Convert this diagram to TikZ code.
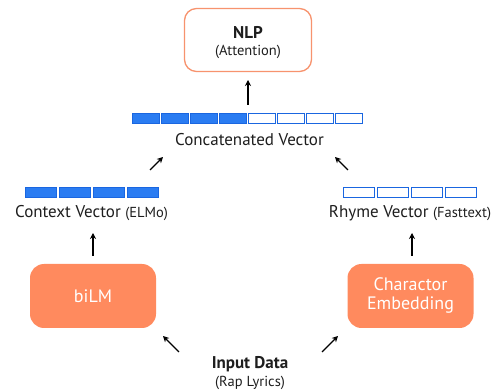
\documentclass[tikz,border=0pt]{standalone}
\usepackage{fontspec}
\setmainfont{PT Sans}
\usetikzlibrary{arrows.meta}
\definecolor{org}{HTML}{FF8A5E}
\definecolor{orgline}{HTML}{F7936E}
\definecolor{blu}{HTML}{2A7CF2}
\definecolor{blub}{HTML}{1A66E0}
\definecolor{txt}{HTML}{1E1E1E}
\newcommand{\bigf}{\fontsize{17}{20}\selectfont}
\newcommand{\smallf}{\fontsize{14.5}{16}\selectfont}
\tikzset{
  fullcell/.style={draw=blub, fill=blu, line width=1pt, minimum height=10pt, inner sep=0pt, anchor=west},
  emptycell/.style={draw=blub, fill=white, line width=1pt, minimum height=10pt, inner sep=0pt, anchor=west},
  arr/.style={-{Stealth[length=6pt,width=6pt]}, line width=1.3pt, black},
  lbl/.style={text=txt, inner sep=0pt, font=\bigf},
  solidbox/.style={fill=org, rounded corners=14pt, minimum width=126pt, minimum height=64pt, text=white, align=center, font=\fontsize{18}{20}\selectfont, inner sep=0pt},
}
\begin{document}
\begin{tikzpicture}[x=1pt,y=-1pt]
\useasboundingbox (0,0) rectangle (499,390);
% NLP box
\node[draw=orgline, line width=1.3pt, fill=white, rounded corners=12pt, minimum width=127pt, minimum height=63pt, inner sep=0pt] (nlp) at (248,40) {};
\node[align=center, inner sep=0pt, text=txt] (nlptxt) at (248,42.5)
  {{\bigf\bfseries NLP}\\[5pt]{\smallf (Attention)}};
% concatenated vector cells
\foreach \i in {1,...,4}{
  \node[fullcell, minimum width=27pt] (c\i) at ({132+29*(\i-1)},118.5) {};
}
\foreach \i in {5,...,8}{
  \node[emptycell, minimum width=27pt] (c\i) at ({132+29*(\i-1)},118.5) {};
}
\node[lbl] (concat) at (249.5,140) {Concatenated Vector};
% context cells
\foreach \i in {1,...,4}{
  \node[fullcell, minimum width=31pt] (l\i) at ({25+34*(\i-1)},192.5) {};
}
\node[lbl] (ctx) at (91.5,213) {Context Vector {\smallf (ELMo)}};
% rhyme cells
\foreach \i in {1,...,4}{
  \node[emptycell, minimum width=31pt] (r\i) at ({343+34*(\i-1)},192.5) {};
}
\node[lbl] (rhy) at (410,213) {Rhyme Vector {\smallf (Fasttext)}};
% boxes
\node[solidbox] (bilm) at (93,296) {biLM};
\node[solidbox, font=\fontsize{18}{19}\selectfont] (emb) at (410.5,296) {Charactor\\Embedding};
% input
\node[text=txt, align=center, inner sep=0pt] (inp) at (250,373)
  {{\bigf\bfseries Input Data}\\[4pt]{\smallf (Rap Lyrics)}};
% arrow coordinates
\coordinate (a1s) at (248,105); \coordinate (a1e) at (248,80);
\coordinate (a2s) at (150,170); \coordinate (a2e) at (163,157);
\coordinate (a3s) at (348,170); \coordinate (a3e) at (335,157);
\coordinate (a4s) at (93,256); \coordinate (a4e) at (93,233);
\coordinate (a5s) at (412,256); \coordinate (a5e) at (412,233);
\coordinate (a6s) at (179,352); \coordinate (a6e) at (163,336);
\coordinate (a7s) at (322,352); \coordinate (a7e) at (338,336);
\foreach \k in {1,...,7}{ \draw[arr] (a\k s) -- (a\k e); }
\end{tikzpicture}
\end{document}
